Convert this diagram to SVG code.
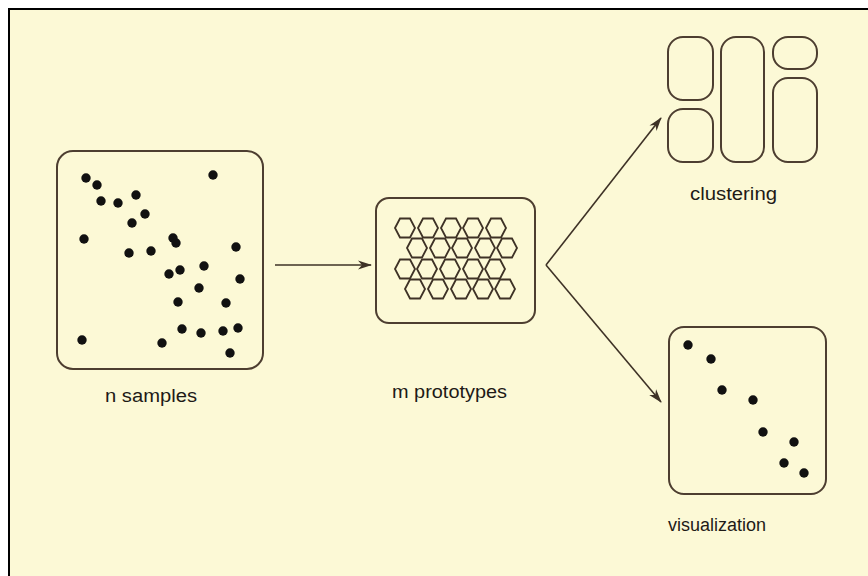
<svg xmlns="http://www.w3.org/2000/svg" width="868" height="576" viewBox="0 0 868 576">
<defs>
<style>
.box{fill:none;stroke:#4d3e30;stroke-width:2}
.dot{fill:#111}
.hex{fill:none;stroke:#3e3226;stroke-width:1.8}
.lbl{font-family:"Liberation Sans",Arial,sans-serif;font-size:18px;fill:#1e1a16}
.conn{fill:none;stroke:#3e3226;stroke-width:1.6}
</style>
<marker id="ah" viewBox="0 0 14 10" refX="13" refY="5" markerWidth="14" markerHeight="10" markerUnits="userSpaceOnUse" orient="auto">
<path d="M0,0.5 L14,5 L0,9.5 L4,5 Z" fill="#3e3226"/>
</marker>
<polygon id="hx" points="-10,0 -5,-9.5 5,-9.5 10,0 5,9.5 -5,9.5"/>
</defs>
<rect width="868" height="576" fill="#ffffff"/>
<rect x="9" y="9" width="870" height="580" fill="#fcf9d6"/>
<path d="M9,590 V9 H870" fill="none" stroke="#000" stroke-width="2"/>

<g id="samples">
<rect class="box" x="57" y="151" width="206" height="218" rx="16"/>
<g class="dot">
<circle cx="86" cy="178" r="4.7"/><circle cx="97" cy="185" r="4.7"/><circle cx="101" cy="201" r="4.7"/>
<circle cx="118" cy="203" r="4.7"/><circle cx="136" cy="195" r="4.7"/><circle cx="145" cy="214" r="4.7"/>
<circle cx="132" cy="223" r="4.7"/><circle cx="213" cy="175" r="4.7"/><circle cx="84" cy="239" r="4.7"/>
<circle cx="173" cy="238" r="4.7"/><circle cx="176" cy="243" r="4.7"/><circle cx="129" cy="253" r="4.7"/>
<circle cx="151" cy="251" r="4.7"/><circle cx="236" cy="247" r="4.7"/><circle cx="204" cy="266" r="4.7"/>
<circle cx="180" cy="270" r="4.7"/><circle cx="169" cy="274" r="4.7"/><circle cx="240" cy="279" r="4.7"/>
<circle cx="199" cy="288" r="4.7"/><circle cx="178" cy="302" r="4.7"/><circle cx="226" cy="303" r="4.7"/>
<circle cx="182" cy="329" r="4.7"/><circle cx="201" cy="333" r="4.7"/><circle cx="223" cy="331" r="4.7"/>
<circle cx="238" cy="328" r="4.7"/><circle cx="82" cy="340" r="4.7"/><circle cx="162" cy="343" r="4.7"/>
<circle cx="230" cy="353" r="4.7"/>
</g>
<text class="lbl" x="105" y="402" textLength="92" lengthAdjust="spacingAndGlyphs">n samples</text>
</g>

<g id="prototypes">
<rect class="box" x="376" y="198" width="159" height="125" rx="13"/>
<g class="hex">
<use href="#hx" x="405" y="228"/><use href="#hx" x="428" y="228"/><use href="#hx" x="451" y="228"/><use href="#hx" x="473" y="228"/><use href="#hx" x="496" y="228"/>
<use href="#hx" x="417" y="248"/><use href="#hx" x="440" y="248"/><use href="#hx" x="462" y="248"/><use href="#hx" x="485" y="248"/><use href="#hx" x="507" y="248"/>
<use href="#hx" x="405" y="269"/><use href="#hx" x="427" y="269"/><use href="#hx" x="450" y="269"/><use href="#hx" x="473" y="269"/><use href="#hx" x="495" y="269"/>
<use href="#hx" x="415" y="289"/><use href="#hx" x="438" y="289"/><use href="#hx" x="461" y="289"/><use href="#hx" x="483" y="289"/><use href="#hx" x="505" y="289"/>
</g>
<text class="lbl" x="392" y="398" textLength="115" lengthAdjust="spacingAndGlyphs">m prototypes</text>
</g>

<g id="clustering">
<rect class="box" x="668" y="37" width="45" height="63" rx="15"/>
<rect class="box" x="668" y="109" width="45" height="53" rx="15"/>
<rect class="box" x="721" y="37" width="43" height="125" rx="15"/>
<rect class="box" x="773" y="37" width="44" height="32" rx="15"/>
<rect class="box" x="773" y="78" width="44" height="84" rx="15"/>
<text class="lbl" x="690" y="200" textLength="87" lengthAdjust="spacingAndGlyphs">clustering</text>
</g>

<g id="visualization">
<rect class="box" x="669" y="327" width="157" height="167" rx="15"/>
<g class="dot">
<circle cx="688" cy="345" r="4.7"/><circle cx="711" cy="359" r="4.7"/><circle cx="722" cy="390" r="4.7"/>
<circle cx="753" cy="400" r="4.7"/><circle cx="763" cy="432" r="4.7"/><circle cx="794" cy="442" r="4.7"/>
<circle cx="784" cy="463" r="4.7"/><circle cx="804" cy="473" r="4.7"/>
</g>
<text class="lbl" x="668" y="531" textLength="98" lengthAdjust="spacingAndGlyphs">visualization</text>
</g>

<g id="connectors">
<line class="conn" x1="275" y1="265" x2="371" y2="265" marker-end="url(#ah)"/>
<line class="conn" x1="546" y1="265" x2="661" y2="118" marker-end="url(#ah)"/>
<line class="conn" x1="546" y1="265" x2="661" y2="402" marker-end="url(#ah)"/>
</g>
</svg>
